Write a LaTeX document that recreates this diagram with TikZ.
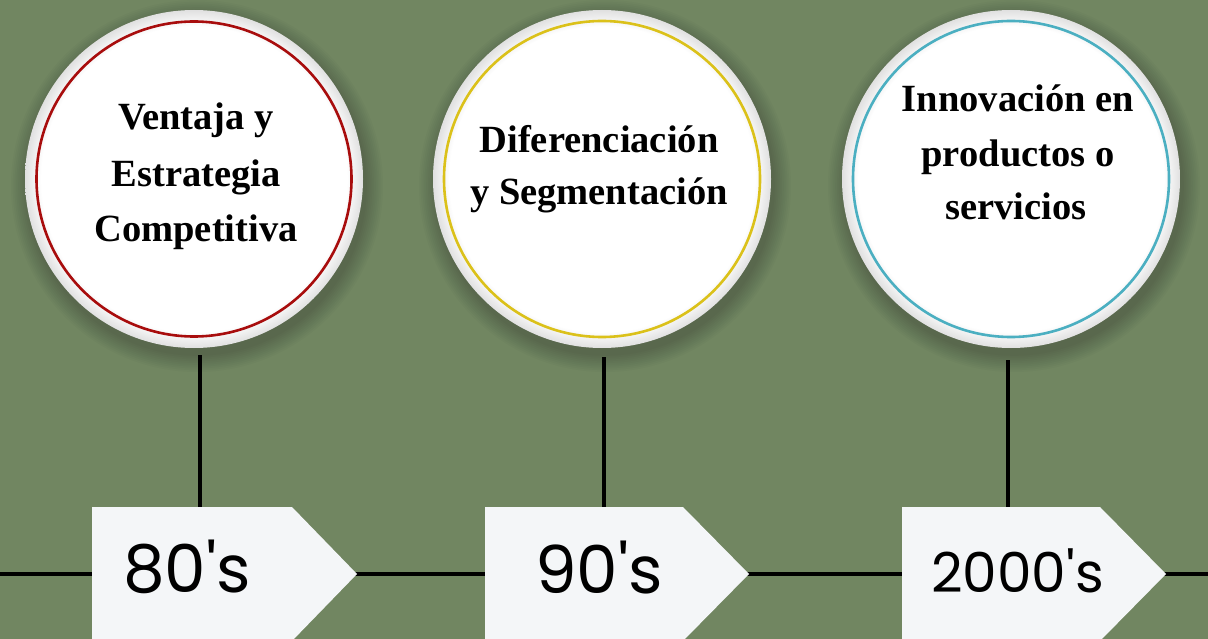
\documentclass[tikz,border=0pt]{standalone}
\usepackage{fontspec}
\setmainfont{Liberation Serif}
\newfontfamily\numfont{Poppins}
\definecolor{bggreen}{HTML}{718661}
\definecolor{tagfill}{HTML}{F4F6F8}
\definecolor{ringred}{HTML}{A80D0D}
\definecolor{ringyellow}{HTML}{DBC11A}
\definecolor{ringteal}{HTML}{4BAFC1}
\pgfdeclareradialshading{discshade}{\pgfpoint{0bp}{0bp}}{color(0bp)=(white); color(22.6bp)=(white); color(25bp)=(black!12); color(50bp)=(black!12)}
\tikzset{
  disc/.style={circle, minimum size=338pt, inner sep=0pt, shading=discshade},
  ring/.style={line width=2.6pt},
  ctext/.style={font=\fontsize{38.5}{56}\selectfont\bfseries, inner sep=0pt, anchor=base},
  ytext/.style={font=\numfont\fontsize{66}{70}\selectfont, inner sep=0pt, anchor=base west},
  ytextsmall/.style={font=\numfont\fontsize{55}{60}\selectfont, inner sep=0pt, anchor=base west},
  tag/.style={fill=tagfill},
  link/.style={line width=3.4pt, black},
  axis/.style={line width=3.6pt, black}
}
\begin{document}
\begin{tikzpicture}[x=1pt,y=-1pt]
\useasboundingbox (0,0) rectangle (1208,639);
\fill[bggreen] (0,0) rectangle (1208,639);

% timeline axis
\coordinate (axL) at (0,574);
\coordinate (axR) at (1208,574);
\draw[axis] (axL) -- (axR);

% shadows
\foreach \cx in {197,605,1014}{
  \foreach \k in {1,...,10}{
    \fill[black, opacity=0.018] (\cx,186) circle ({168pt+\k*1.8pt});
  }
}

% discs
\node[disc] (c1) at (194,179) {};
\node[disc] (c2) at (602,179) {};
\node[disc] (c3) at (1011,179) {};
\draw[ring, ringred] (c1.center) circle (157.5pt);
\draw[ring, ringyellow] (c2.center) circle (158pt);
\draw[ring, ringteal] (c3.center) circle (158pt);

% circle texts
\node[ctext] (t11) at (196,130) {Ventaja y};
\node[ctext] (t12) at (196,187) {Estrategia};
\node[ctext] (t13) at (196,242) {Competitiva};
\node[ctext] (t21) at (599,153) {Diferenciación};
\node[ctext] (t22) at (599,205) {y Segmentación};
\node[ctext] (t31) at (1018,112) {Innovación en};
\node[ctext] (t32) at (1018,167) {productos o};
\node[ctext] (t33) at (1016,220) {servicios};

% tags
\fill[tag] (92,507) -- (292,507) -- (357,574) -- (292,641) -- (92,641) -- cycle;
\fill[tag] (485,507) -- (683,507) -- (749,574) -- (683,641) -- (485,641) -- cycle;
\fill[tag] (902,507) -- (1100,507) -- (1166,574) -- (1100,641) -- (902,641) -- cycle;
\coordinate (p1) at (200,507);
\coordinate (p2) at (604,507);
\coordinate (p3) at (1008,507);
\coordinate (q1) at (200,355);
\coordinate (q2) at (604,357);
\coordinate (q3) at (1008,360);
\draw[link] (q1) -- (p1);
\draw[link] (q2) -- (p2);
\draw[link] (q3) -- (p3);

\node[ytext] (y1) at (123,592) {80's};
\node[ytext] (y2) at (535,593) {90's};
\node[ytextsmall] (y3) at (931,592) {2000's};
\end{tikzpicture}
\end{document}
